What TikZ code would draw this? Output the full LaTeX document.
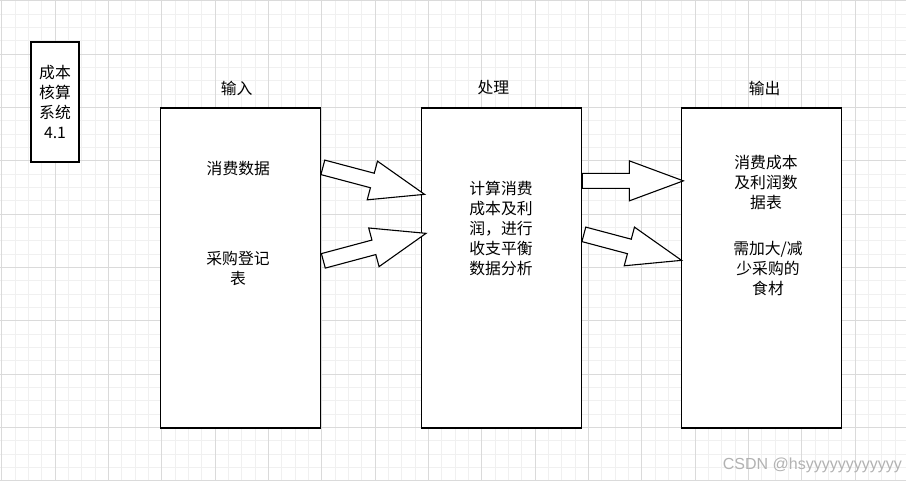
\documentclass[tikz,border=0pt]{standalone}
\usepackage{fontspec}
\setmainfont{Noto Sans CJK SC}
\newfontfamily\wmfont{Liberation Sans}
\usetikzlibrary{calc}

\definecolor{gridminor}{RGB}{240,240,240}
\definecolor{gridmajor}{RGB}{218,218,218}
\definecolor{wmgray}{RGB}{178,178,178}

% Blockpfeil von #1 nach #2
\newcommand{\blockarrow}[2]{%
  \draw[blockarr] let \p1=(#1), \p2=(#2),
    \n1={atan2(\y2-\y1,\x2-\x1)}, \n2={veclen(\x2-\x1,\y2-\y1)}, \n3={\n2-54} in
    (\p1) ++(\n1+90:7.5pt) -- ++(\n1:\n3) -- ++(\n1+90:12.5pt)
    -- (\p2)
    -- ($(\p2)+(\n1+180:54pt)+(\n1-90:20pt)$)
    -- ++(\n1+90:12.5pt)
    -- ($(\p1)+(\n1-90:7.5pt)$) -- cycle;}

\begin{document}
\begin{tikzpicture}[x=1pt,y=-1pt,
	every node/.style={font=\fontsize{15.8}{20}\selectfont, inner sep=0pt},
	box/.style={draw=black, fill=white, line width=1.3pt},
	blockarr/.style={draw=black, fill=white, line width=1.1pt, line join=miter},
	wm/.style={font=\wmfont\fontsize{16}{18}\selectfont, text=wmgray}]

	\useasboundingbox (0,0) rectangle (906,481);
	\fill[white] (0,0) rectangle (906,481);

	% Raster
	\foreach \k in {0,...,67}
		\draw[gridminor, line width=1pt] ({1.7+13.333*\k},0) -- ++(0,481);
	\foreach \k in {0,...,36}
		\draw[gridminor, line width=1pt] (0,{1+13.333*\k}) -- ++(906,0);
	\foreach \k in {0,...,16}
		\draw[gridmajor, line width=1pt] ({1.7+53.333*\k},0) -- ++(0,481);
	\foreach \k in {0,...,9}
		\draw[gridmajor, line width=1pt] (0,{1+53.333*\k}) -- ++(906,0);

	% Kaesten
	\node[box, minimum width=48, minimum height=120, align=center] (sys) at (55,102)
		{成本\\核算\\系统\\4.1};
	\node[box, minimum width=160, minimum height=320] (in) at (240.7,268) {};
	\node[box, minimum width=160, minimum height=320] (proc) at (501.7,268) {};
	\node[box, minimum width=160, minimum height=320] (out) at (761.7,268) {};

	% Beschriftung
	\node (inlbl) at (236.7,88) {输入};
	\node (proclbl) at (493.3,88) {处理};
	\node (outlbl) at (764.7,88) {输出};

	\node (cons) at (238.3,168.3) {消费数据};
	\node[align=center] (purch) at (238,268.5) {采购登记\\表};
	\node[align=center] (calc) at (501,228) {计算消费\\成本及利\\润，进行\\收支平衡\\数据分析};
	\node[align=center] (tab) at (766,182) {消费成本\\及利润数\\据表};
	\node[align=center] (food) at (768,268) {需加大/减\\少采购的\\食材};

	% Pfeile
	\coordinate (a1s) at ($(in.north east)+(1.5,60)$);
	\coordinate (a1e) at ($(proc.north west)+(3.5,87)$);
	\coordinate (a2s) at ($(in.north east)+(2,153.5)$);
	\coordinate (a2e) at ($(proc.north west)+(5,126)$);
	\coordinate (a3s) at ($(proc.north east)+(0,73.5)$);
	\coordinate (a3e) at ($(out.north west)+(2.3,73.5)$);
	\coordinate (a4s) at ($(proc.north east)+(1.5,127)$);
	\coordinate (a4e) at ($(out.north west)+(0.5,153)$);

	\blockarrow{a1s}{a1e}
	\blockarrow{a2s}{a2e}
	\blockarrow{a3s}{a3e}
	\blockarrow{a4s}{a4e}

	\node[wm, anchor=east] (mark) at (902,465) {CSDN @hsyyyyyyyyyyyy};

\end{tikzpicture}
\end{document}
